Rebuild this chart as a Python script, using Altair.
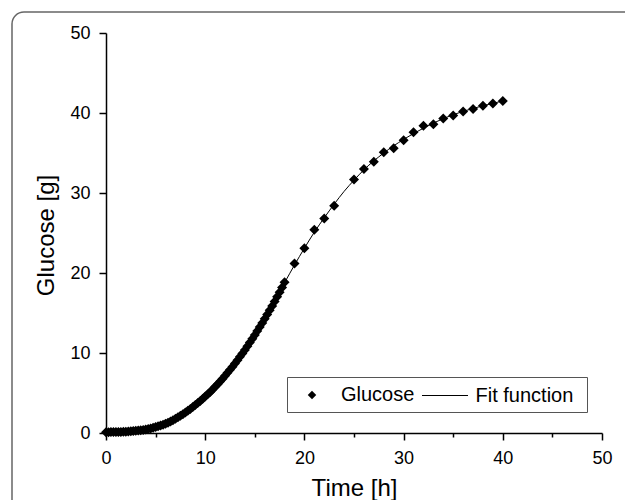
import altair as alt
import pandas as pd

# ---- data ----
dense_t = [i * 0.25 for i in range(73)]  # 0 .. 18 h, every 0.25 h
dense_g = [0.10, 0.10, 0.11, 0.11, 0.12, 0.13, 0.14, 0.15, 0.17, 0.19,
           0.21, 0.24, 0.27, 0.30, 0.34, 0.39, 0.44, 0.50, 0.57, 0.65,
           0.74, 0.83, 0.93, 1.04, 1.16, 1.29, 1.43, 1.58, 1.78, 1.96,
           2.15, 2.35, 2.56, 2.78, 3.01, 3.25, 3.49, 3.74, 4.00, 4.27,
           4.55, 4.84, 5.14, 5.45, 5.77, 6.10, 6.44, 6.79, 7.15, 7.52,
           7.90, 8.29, 8.69, 9.10, 9.52, 9.95, 10.39, 10.84, 11.30, 11.77,
           12.25, 12.74, 13.24, 13.75, 14.27, 14.80, 15.34, 15.89, 16.45, 17.02,
           17.60, 18.19, 18.85]
sparse_t = [19, 20, 21, 22, 23, 25, 26, 27, 28, 29, 30, 31, 32, 33, 34, 35, 36, 37, 38, 39, 40]
sparse_g = [21.2, 23.1, 25.4, 26.8, 28.4, 31.7, 33.0, 33.9, 35.1, 35.6, 36.6, 37.6,
            38.4, 38.6, 39.3, 39.7, 40.2, 40.5, 40.9, 41.2, 41.5]

fit_t = [0, 2, 4, 6, 8, 10, 12, 14, 16, 18, 19, 20, 21, 22, 23, 24, 25, 26, 28, 30, 32, 34, 36, 38, 40]
fit_g = [0.10, 0.17, 0.44, 1.16, 2.56, 4.55, 7.15, 10.39, 14.27, 18.78, 21.0, 23.1, 25.1,
         26.9, 28.6, 30.2, 31.6, 32.9, 35.0, 36.7, 38.1, 39.3, 40.2, 40.9, 41.5]

axis_ticks = [0, 5, 10, 15, 20, 25, 30, 35, 40, 45, 50]

pts = pd.DataFrame({"t": dense_t + sparse_t, "g": dense_g + sparse_g, "series": "Glucose"})
fit = pd.DataFrame({"t": fit_t, "g": fit_g, "series": "Fit function"})

FONT = "Liberation Sans"

tick_size = {"condition": {"test": "datum.value % 10 !== 0", "value": 4}, "value": 7}
label_expr = "datum.value % 10 === 0 ? datum.label : ''"

x_scale = alt.Scale(domain=[0, 50], nice=False)
y_scale = alt.Scale(domain=[0, 50], nice=False)

x_axis = alt.Axis(values=axis_ticks, labelExpr=label_expr, tickSize=tick_size,
                  grid=False, domainColor="black", domainWidth=1.5, tickColor="black",
                  tickWidth=1.5, labelFontSize=18, labelFont=FONT, labelColor="black",
                  labelPadding=9, labelFlush=False, labelOverlap=False,
                  title="Time [h]", titleFontSize=24, titleFont=FONT, titleFontWeight="normal",
                  titleColor="black", titleY=62, titleBaseline="alphabetic")
y_axis = alt.Axis(values=axis_ticks, labelExpr=label_expr, tickSize=tick_size,
                  grid=False, domainColor="black", domainWidth=1.5, tickColor="black",
                  tickWidth=1.5, labelFontSize=18, labelFont=FONT, labelColor="black",
                  labelPadding=9, labelFlush=False, labelOverlap=False,
                  title="Glucose [g]", titleFontSize=24, titleFont=FONT, titleFontWeight="normal",
                  titleColor="black", titleX=-53, titleY=202, titleBaseline="alphabetic",
                  titleAngle=270)

# decorative outer panel frame and legend box
frame = alt.Chart(pd.DataFrame({"k": [0]})).mark_rect(
    fill=None, stroke="#666666", strokeWidth=1.5, cornerRadius=12
).encode(x=alt.value(-94), x2=alt.value(560), y=alt.value(-21), y2=alt.value(520))

legend_box = alt.Chart(pd.DataFrame({"k": [0]})).mark_rect(
    fill="white", stroke="#555555", strokeWidth=1
).encode(x=alt.value(181.5), x2=alt.value(481.5), y=alt.value(344.5), y2=alt.value(379.5))

line = alt.Chart(fit).mark_line(strokeWidth=1, interpolate="monotone").encode(
    x=alt.X("t:Q", scale=x_scale, axis=x_axis),
    y=alt.Y("g:Q", scale=y_scale, axis=y_axis),
    color=alt.Color("series:N", scale=alt.Scale(domain=["Fit function"], range=["black"]),
                    legend=alt.Legend(orient="none", legendX=315.5, legendY=339, title=None,
                                      symbolType="stroke", symbolSize=2116, symbolStrokeWidth=1,
                                      symbolStrokeColor="black", labelFontSize=20, labelFont=FONT,
                                      labelColor="black", labelOffset=7, padding=0)),
)

points = alt.Chart(pts).mark_point(filled=True, size=100, color="black", opacity=1).encode(
    x=alt.X("t:Q", scale=x_scale),
    y=alt.Y("g:Q", scale=y_scale),
    shape=alt.Shape("series:N", scale=alt.Scale(domain=["Glucose"], range=["diamond"]),
                    legend=alt.Legend(orient="none", legendX=196, legendY=352, title=None,
                                      symbolSize=72, symbolFillColor="black",
                                      symbolStrokeColor="black", symbolStrokeWidth=0,
                                      labelFontSize=20, labelFont=FONT, labelColor="black",
                                      labelOffset=19, padding=0)),
)

chart = alt.layer(frame, legend_box, line, points).properties(
    width=496, height=400,
    autosize=alt.AutoSizeParams(type="none"),
    padding={"left": 106, "top": 33, "right": 23, "bottom": 67},
    background="white",
).configure(font=FONT).configure_view(stroke=None)

chart.save("out.html", embed_options={"renderer": "svg", "actions": False})
